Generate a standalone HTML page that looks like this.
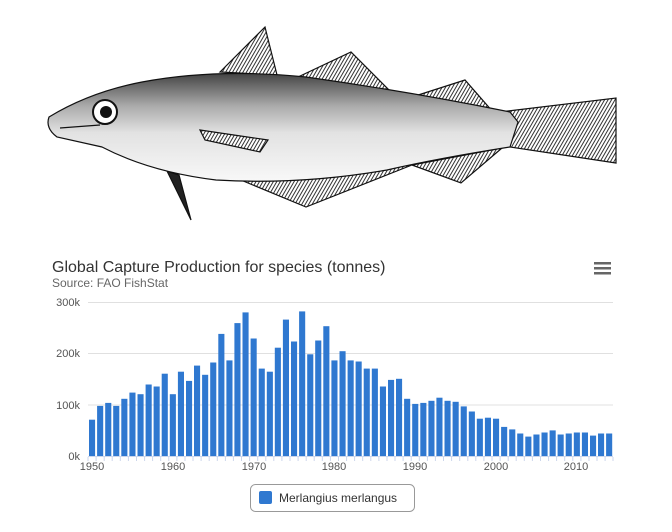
<!DOCTYPE html>
<html><head><meta charset="utf-8"><style>
body{margin:0;background:#fff;width:672px;height:532px;overflow:hidden;font-family:"Liberation Sans",sans-serif}
</style></head><body>
<svg width="672" height="532" viewBox="0 0 672 532" xmlns="http://www.w3.org/2000/svg" style="position:absolute;left:0;top:0">
<defs>
<pattern id="fin" width="3" height="3" patternUnits="userSpaceOnUse" patternTransform="rotate(30)">
<rect width="3" height="3" fill="#fff"/><rect width="1" height="3" fill="#333"/></pattern>
<linearGradient id="body" x1="0" y1="0" x2="0" y2="1">
<stop offset="0" stop-color="#444"/><stop offset="0.3" stop-color="#aaa"/><stop offset="0.55" stop-color="#e2e2e2"/><stop offset="1" stop-color="#f8f8f8"/></linearGradient>
</defs>
<g stroke="#111" stroke-width="1.2">
<polygon points="220,72 265,27 277,75" fill="url(#fin)"/>
<polygon points="298,77 351,52 391,92" fill="url(#fin)"/>
<polygon points="412,97 465,80 493,112" fill="url(#fin)"/>
<polygon points="500,112 616,98 616,163 510,147" fill="url(#fin)"/>
<polygon points="502,148 461,183 412,165" fill="url(#fin)"/>
<polygon points="412,165 306,207 236,178" fill="url(#fin)"/>
<polygon points="167,171 191,220 179,175" fill="#222"/>
<path d="M49,117 Q90,92 142,82 Q216,68 306,77 Q412,92 510,112 L518,122 L510,147 Q440,158 387,170 Q300,185 216,180 Q150,172 102,147 L57,137 Q45,128 49,117 Z" fill="url(#body)"/>
<polygon points="200,130 268,140 260,152 205,140" fill="url(#fin)"/>
<path d="M100,125 L60,128" fill="none"/>
</g>
<circle cx="105" cy="112" r="12" fill="#fff" stroke="#111" stroke-width="2"/>
<circle cx="106" cy="112" r="6" fill="#111"/>
<text x="52" y="272" font-size="16" fill="#333">Global Capture Production for species (tonnes)</text>
<text x="52" y="287" font-size="12" fill="#666">Source: FAO FishStat</text>
<g fill="#666"><rect x="594" y="262" width="17" height="2.5"/><rect x="594" y="267" width="17" height="2.5"/><rect x="594" y="272" width="17" height="2.5"/></g>
<g stroke="#e0e0e0" stroke-width="1">
<line x1="88" y1="302.5" x2="613" y2="302.5"/><line x1="88" y1="353.5" x2="613" y2="353.5"/><line x1="88" y1="405" x2="613" y2="405"/></g>
<g font-size="11" fill="#555" text-anchor="end">
<text x="80" y="306">300k</text><text x="80" y="357">200k</text><text x="80" y="409">100k</text><text x="80" y="460">0k</text></g>
<g id="bars" fill="#2f78d0"></g>
<line x1="88" y1="456.5" x2="613" y2="456.5" stroke="#ccd6eb"/>
<g id="ticks" stroke="#ccd6eb"></g>
<g font-size="11" fill="#555" text-anchor="middle">
<text x="92" y="470">1950</text><text x="173" y="470">1960</text><text x="254" y="470">1970</text><text x="334" y="470">1980</text><text x="415" y="470">1990</text><text x="496" y="470">2000</text><text x="576" y="470">2010</text></g>
<rect x="250.5" y="484.5" width="164" height="27" rx="5" fill="#fff" stroke="#999"/>
<rect x="259" y="491" width="13" height="13" rx="2" fill="#2f78d0"/>
<text x="279" y="502" font-size="12" fill="#333">Merlangius merlangus</text>
</svg>
<script>
var v=[71,98,104,98,112,124,121,140,136,161,121,165,147,177,159,183,239,187,260,281,230,171,165,212,267,224,283,199,226,254,187,205,187,185,171,171,136,149,151,112,102,104,108,114,108,106,97,87,73,75,73,57,52,44,38,42,46,50,42,44,46,46,40,44,44];
var g=document.getElementById('bars'),t=document.getElementById('ticks'),s='',tk='';
for(var i=0;i<v.length;i++){var x=88+i*8.08+1,h=v[i]*0.511;
s+='<rect x="'+x.toFixed(1)+'" y="'+(456-h).toFixed(1)+'" width="6.1" height="'+h.toFixed(1)+'"/>';
var tx=88+i*8.08;tk+='<line x1="'+tx.toFixed(1)+'" y1="457" x2="'+tx.toFixed(1)+'" y2="461"/>';}
tk+='<line x1="613" y1="457" x2="613" y2="461"/>';
g.innerHTML=s;t.innerHTML=tk;
</script>
</body></html>
